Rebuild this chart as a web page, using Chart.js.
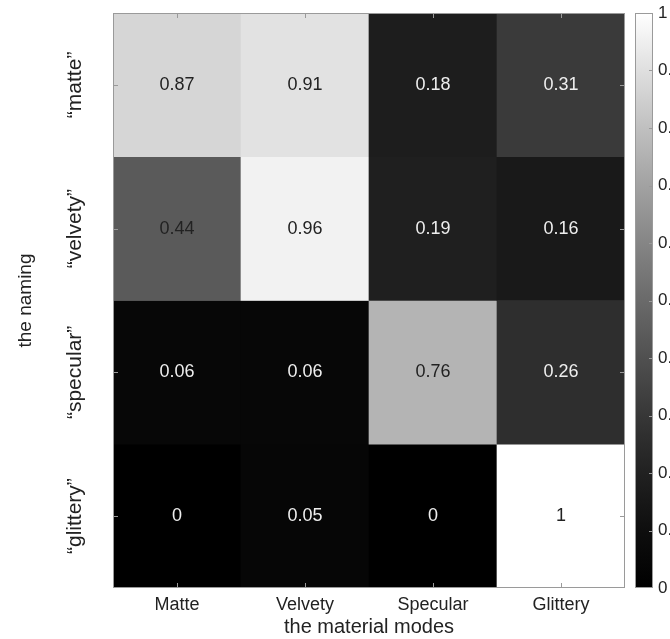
<!DOCTYPE html>
<html lang="en">
<head>
<meta charset="UTF-8" />
<title>Material modes vs naming</title>
<script src="https://cdn.jsdelivr.net/npm/chart.js"></script>
<style>
  body { margin: 0; background: #fff; font-family: "Liberation Sans", Arial, sans-serif; }
  #wrap { width: 670px; height: 639px; }
</style>
</head>
<body>
<div id="wrap"><canvas id="heat"></canvas></div>
<script>
// columns (x) and rows (y)
const modes = ["Matte", "Velvety", "Specular", "Glittery"];
const names = ["\u201cmatte\u201d", "\u201cvelvety\u201d", "\u201cspecular\u201d", "\u201cglittery\u201d"];
// one array per naming row, values per material mode
const matteRow = [0.87, 0.91, 0.18, 0.31];
const velvetyRow = [0.44, 0.96, 0.19, 0.16];
const specularRow = [0.06, 0.06, 0.76, 0.26];
const glitteryRow = [0, 0.05, 0, 1];
const rows = [matteRow, velvetyRow, specularRow, glitteryRow];
const barTicks = [0, 0.1, 0.2, 0.3, 0.4, 0.5, 0.6, 0.7, 0.8, 0.9, 1];

const FONT = "'Liberation Sans', Arial, sans-serif";

// gray colormap (a bit darker in the low end, like the figure)
function gray(v) {
  const g = Math.round(255 * Math.pow(v, 1.27));
  return `rgb(${g},${g},${g})`;
}

const datasets = rows.map((vals, i) => ({
  label: names[i],
  data: vals.map(() => [i, i + 1]),
  values: vals,
  backgroundColor: vals.map(gray),
  borderWidth: 0,
  barPercentage: 1,
  categoryPercentage: 1,
  grouped: false
}));

const decor = {
  id: "decor",
  afterDatasetsDraw(chart) {
    const ctx = chart.ctx;
    const area = chart.chartArea;
    const xs = chart.scales.x, ys = chart.scales.y, cb = chart.scales.cb;

    // cell values
    ctx.save();
    ctx.font = "18px " + FONT;
    ctx.textAlign = "center";
    ctx.textBaseline = "middle";
    chart.data.datasets.forEach((ds, i) => {
      chart.getDatasetMeta(i).data.forEach((el, j) => {
        const v = ds.values[j];
        const p = el.getProps(["x", "y", "base"], true);
        ctx.fillStyle = v >= 0.4 ? "#222" : "#eee";
        ctx.fillText(String(v), p.x, (p.y + p.base) / 2);
      });
    });

    // plot frame and inner ticks
    ctx.strokeStyle = "#9a9a9a";
    ctx.lineWidth = 1;
    ctx.strokeRect(area.left + 0.5, area.top + 0.5, area.right - area.left - 1, area.bottom - area.top - 1);
    ctx.beginPath();
    modes.forEach((m, j) => {
      const x = Math.round(xs.getPixelForValue(j)) + 0.5;
      ctx.moveTo(x, area.top); ctx.lineTo(x, area.top + 5);
      ctx.moveTo(x, area.bottom); ctx.lineTo(x, area.bottom - 5);
    });
    names.forEach((n, i) => {
      const y = Math.round(ys.getPixelForValue(i + 0.5)) + 0.5;
      ctx.moveTo(area.left, y); ctx.lineTo(area.left + 5, y);
      ctx.moveTo(area.right, y); ctx.lineTo(area.right - 5, y);
    });
    ctx.stroke();

    // row names, rotated
    ctx.fillStyle = "#222";
    ctx.font = "21px " + FONT;
    names.forEach((n, i) => {
      ctx.save();
      ctx.translate(75, ys.getPixelForValue(i + 0.5));
      ctx.rotate(-Math.PI / 2);
      ctx.fillText(n, 0, 0);
      ctx.restore();
    });

    // colorbar
    const x0 = cb.left + 10, x1 = cb.left + 28;
    const yTop = cb.getPixelForValue(1), yBot = cb.getPixelForValue(0);
    const grad = ctx.createLinearGradient(0, yBot, 0, yTop);
    barTicks.forEach(t => grad.addColorStop(t, gray(t)));
    ctx.fillStyle = grad;
    ctx.fillRect(x0, yTop, x1 - x0, yBot - yTop);
    ctx.strokeStyle = "#9a9a9a";
    ctx.strokeRect(x0 + 0.5, yTop + 0.5, x1 - x0 - 1, yBot - yTop - 1);
    ctx.beginPath();
    barTicks.slice(1, -1).forEach(t => {
      const y = Math.round(cb.getPixelForValue(t)) + 0.5;
      ctx.moveTo(x1 - 4, y); ctx.lineTo(x1, y);
    });
    ctx.stroke();
    ctx.restore();
  }
};

new Chart(document.getElementById("heat"), {
  type: "bar",
  data: { labels: modes, datasets: datasets },
  options: {
    responsive: true,
    maintainAspectRatio: false,
    devicePixelRatio: 1,
    animation: false,
    layout: { padding: { top: 13, left: 0, right: 0, bottom: 0 } },
    plugins: { legend: { display: false }, tooltip: { enabled: false } },
    scales: {
      x: {
        type: "category",
        grid: { display: false, drawTicks: false },
        border: { display: false },
        ticks: { color: "#222", font: { family: FONT, size: 18 }, padding: 6, maxRotation: 0 },
        title: { display: true, text: "the material modes", color: "#222",
                 font: { family: FONT, size: 20 }, padding: { top: 0, bottom: 0 } },
        afterFit: s => { s.height = 51; }
      },
      y: {
        type: "linear",
        min: 0, max: 4, reverse: true,
        grid: { display: false, drawTicks: false },
        border: { display: false },
        ticks: { display: false },
        title: { display: true, text: "the naming", color: "#222",
                 font: { family: FONT, size: 19 }, padding: { top: 14, bottom: 0 } },
        afterFit: s => { s.width = 113; s.paddingTop = 0; s.paddingBottom = 0; }
      },
      cb: {
        type: "linear",
        position: "right",
        min: 0, max: 1,
        grid: { display: false, drawTicks: false },
        border: { display: false },
        ticks: { stepSize: 0.1, padding: 33, color: "#222", font: { family: FONT, size: 17 },
                 callback: v => String(+v.toFixed(1)) },
        afterFit: s => { s.width = 45; s.paddingTop = 0; s.paddingBottom = 0; }
      }
    }
  },
  plugins: [decor]
});
</script>
</body>
</html>
